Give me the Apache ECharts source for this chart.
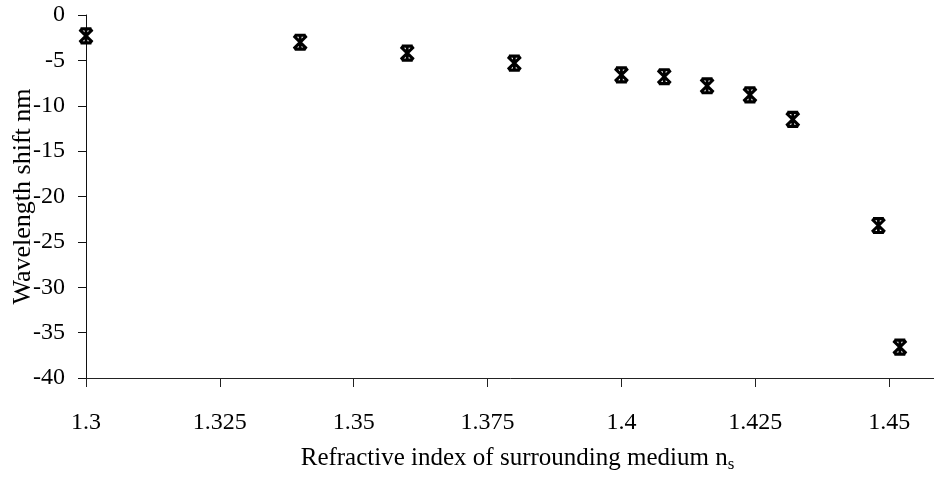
<!DOCTYPE html>
<html>
<head>
<meta charset="utf-8">
<title>Wavelength shift vs refractive index</title>
<script src="https://cdn.jsdelivr.net/npm/echarts@6/dist/echarts.min.js"></script>
<style>
  html, body { margin: 0; padding: 0; background: #fff; }
  #chart { width: 934px; height: 479px; }
</style>
</head>
<body>
<div id="chart"></div>
<script>
// Refractive index of the surrounding medium (x) and measured wavelength shift in nm (y)
const refractiveIndex = [1.300, 1.340, 1.360, 1.380, 1.400, 1.408, 1.416, 1.424, 1.432, 1.448, 1.452];
const wavelengthShift = [-2.3, -3.0, -4.2, -5.3, -6.6, -6.8, -7.8, -8.8, -11.5, -23.2, -36.6];

// Axis ranges and tick steps
const xTickStart = 1.3;
const xTickStep = 0.025;
const xTickEnd = 1.475;
const yTickStart = -40;
const yTickStep = 5;
const yTickEnd = 0;

const FONT = "'Liberation Serif', 'Times New Roman', serif";

// Asterisk with capped bars, drawn as stroked segments
const starSymbol = 'path://M-6,-6L6,6M6,-6L-6,6M0,-7L0,7M-5,-6.5L5,-6.5M-5,6.5L5,6.5';

const points = refractiveIndex.map((x, i) => [x, wavelengthShift[i]]);

const chart = echarts.init(document.getElementById('chart'), null, { renderer: 'canvas' });

chart.setOption({
  backgroundColor: '#ffffff',
  animation: false,
  grid: { left: 86, right: -89, top: 15, bottom: 101, containLabel: false, outerBoundsMode: 'none' },
  xAxis: {
    type: 'value',
    min: xTickStart,
    max: xTickEnd,
    interval: xTickStep,
    name: '{m|Refractive index of surrounding medium n}{s|s}',
    nameLocation: 'middle',
    nameGap: 66,
    nameTextStyle: {
      padding: [0, 74, 0, 0],
      rich: {
        m: { fontFamily: FONT, fontSize: 25, color: '#000' },
        s: { fontFamily: FONT, fontSize: 17, color: '#000', padding: [12, 0, 0, 0] }
      }
    },
    axisLine: { onZero: false, lineStyle: { color: '#222', width: 1 } },
    axisTick: { show: true, inside: false, length: 9, lineStyle: { color: '#222', width: 1 } },
    axisLabel: {
      margin: 33,
      fontFamily: FONT,
      fontSize: 24,
      color: '#000',
      formatter: v => String(Math.round(v * 1000) / 1000)
    },
    splitLine: { show: false }
  },
  yAxis: {
    type: 'value',
    min: yTickStart,
    max: yTickEnd,
    interval: yTickStep,
    name: 'Wavelength shift nm',
    nameLocation: 'middle',
    nameGap: 50,
    nameMoveOverlap: false,
    nameTextStyle: { fontFamily: FONT, fontSize: 26, color: '#000' },
    axisLine: { show: true, lineStyle: { color: '#111', width: 1 } },
    axisTick: { show: true, inside: false, length: 8, lineStyle: { color: '#111', width: 1 } },
    axisLabel: { margin: 21, fontFamily: FONT, fontSize: 24, color: '#000' },
    splitLine: { show: false }
  },
  series: [{
    type: 'scatter',
    data: points,
    symbol: starSymbol,
    symbolSize: [13, 15],
    clip: false,
    itemStyle: { color: 'rgba(0,0,0,0)', borderColor: '#000', borderWidth: 3, opacity: 1 },
    emphasis: { disabled: true }
  }]
});
</script>
</body>
</html>
